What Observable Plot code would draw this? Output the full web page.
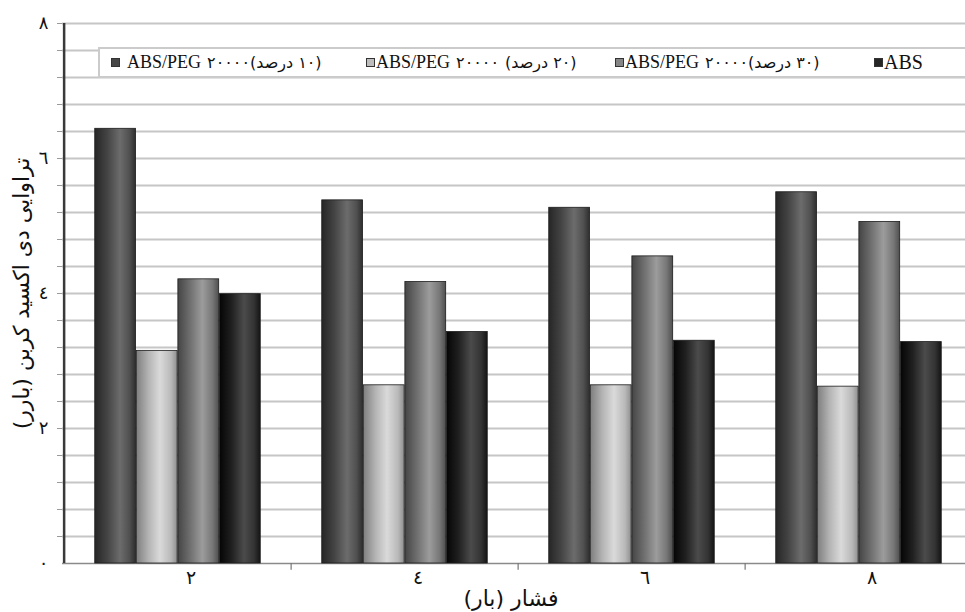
<!DOCTYPE html>
<html>
<head>
<meta charset="utf-8">
<script src="https://cdn.jsdelivr.net/npm/d3@7"></script>
<script src="https://cdn.jsdelivr.net/npm/@observablehq/plot@0.6"></script>
<style>
  html, body { margin: 0; padding: 0; background: #fff; overflow: hidden; }
  #wrap { position: relative; width: 965px; height: 612px; overflow: hidden; }
  #wrap svg { display: block; max-width: none !important; }
  .legend {
    position: absolute; left: 98px; top: 47px; width: 900px; height: 27px;
    border: 2px solid #cbcbcb; background: #fff;
    font-family: "Liberation Serif", "DejaVu Sans", serif; color: #111;
  }
  .item { position: absolute; top: 0; height: 27px; display: flex; align-items: center; white-space: nowrap; }
  .sw { width: 9px; height: 9px; border: 1px solid #333; box-sizing: border-box; }
  .num { font-family: "DejaVu Sans", sans-serif; font-size: 16px; letter-spacing: 1.5px; margin-left: 6px; }
  .fa { direction: rtl; unicode-bidi: isolate; font-family: "DejaVu Sans", sans-serif; font-size: 16px; }
</style>
</head>
<body>
<div id="wrap"></div>
<script>
// Pressure groups (bar) and their tick labels
const pressures = [2, 4, 6, 8];
const pressureLabels = ["٢", "٤", "٦", "٨"];

// Series, in bar order within each group
const seriesKeys = ["peg10", "peg20", "peg30", "abs"];
const seriesLatin = ["ABS/PEG", "ABS/PEG", "ABS/PEG", "ABS"];
const seriesMw = ["٢٠٠٠٠", "٢٠٠٠٠", "٢٠٠٠٠", ""];
const seriesPersian = ["(١٠ درصد)", "(٢٠ درصد)", "(٣٠ درصد)", ""];

// CO2 permeability (Barrer) per pressure
const peg10 = [6.44, 5.38, 5.27, 5.50];
const peg20 = [3.15, 2.64, 2.64, 2.62];
const peg30 = [4.21, 4.17, 4.55, 5.06];
const abs   = [3.99, 3.43, 3.30, 3.28];

// Y axis tick labels
const yTicks = [0, 2, 4, 6, 8];
const yTickLabels = ["٠", "٢", "٤", "٦", "٨"];

const yTitle = "\u200Fتراوایی دی اکسید کربن (بارر)\u200F";
const xTitle = "\u200Fفشار (بار)\u200F";

const valuesBySeries = {peg10, peg20, peg30, abs};
const table = seriesKeys.flatMap(s =>
  pressureLabels.map((g, i) => ({series: s, group: g, value: valuesBySeries[s][i]}))
);

// Cylinder-like shading for each series
const gradients = {
  peg10: [[0, "#262626"], [0.3, "#434343"], [0.62, "#6c6c6c"], [0.85, "#505050"], [1, "#2e2e2e"]],
  peg20: [[0, "#7e7e7e"], [0.3, "#b4b4b4"], [0.58, "#dadada"], [0.85, "#b9b9b9"], [1, "#8f8f8f"]],
  peg30: [[0, "#454545"], [0.3, "#6f6f6f"], [0.6, "#9c9c9c"], [0.85, "#777777"], [1, "#4f4f4f"]],
  abs:   [[0, "#050505"], [0.3, "#202020"], [0.6, "#4b4b4b"], [0.85, "#333333"], [1, "#141414"]]
};
const swatchColors = {peg10: "#464646", peg20: "#bdbdbd", peg30: "#858585", abs: "#262626"};

const W = 973, H = 612, ML = 62, MR = 0, MT = 23, MB = 49;
const step = (W - ML - MR) / pressureLabels.length;
const outer = step * 0.135;
const barW = step * 0.73 / seriesKeys.length;

const gridTicks = d3.range(1, 21).map(k => k * 0.4);

const bars = seriesKeys.map((s, i) =>
  Plot.barY(table.filter(d => d.series === s), {
    x: "group",
    y: "value",
    fill: `url(#grad-${s})`,
    stroke: "#1c1c1c",
    strokeWidth: 0.8,
    insetLeft: outer + barW * i,
    insetRight: step - outer - barW * (i + 1)
  })
);

const chart = Plot.plot({
  width: W,
  height: H,
  marginLeft: ML,
  marginRight: MR,
  marginTop: MT,
  marginBottom: MB,
  style: {fontFamily: "'Liberation Serif', 'DejaVu Sans', serif", color: "#111", background: "#fff", maxWidth: "none"},
  x: {domain: pressureLabels, padding: 0, axis: null},
  y: {domain: [0, 8], axis: null},
  marks: [
    Plot.ruleY(gridTicks, {stroke: "#c6c6c6", strokeWidth: 2}),
    Plot.ruleY([0], {stroke: "#8a8a8a", strokeWidth: 1.5}),
    // small ticks left of the value axis
    Plot.axisY(gridTicks, {anchor: "left", tickSize: 5, fill: "none", stroke: "#9a9a9a", label: null}),
    Plot.axisY(yTicks, {
      anchor: "left", tickSize: 0, tickPadding: 14, fontSize: 18, fill: "#111",
      tickFormat: d => yTickLabels[yTicks.indexOf(d)], label: null
    }),
    // category separators below the baseline
    Plot.ruleX(pressureLabels.slice(1), {x: d => d, dx: -step / 2, y1: 0, y2: -0.1, stroke: "#777", strokeWidth: 1.2}),
    ...bars,
    // value axis line
    Plot.ruleX([pressureLabels[0]], {x: d => d, dx: -step / 2, y1: 0, y2: 8, stroke: "#3a3a3a", strokeWidth: 2.5}),
    Plot.axisX({anchor: "bottom", tickSize: 0, tickPadding: 7, dx: 13, fontSize: 19, fill: "#111", label: null}),
    Plot.text([xTitle], {frameAnchor: "bottom", textAnchor: "middle", dy: 42, dx: -7, fontSize: 22, fill: "#111", fontFamily: "DejaVu Sans"}),
    Plot.text([yTitle], {frameAnchor: "left", textAnchor: "middle", dx: -41, rotate: -90, fontSize: 22, fill: "#111", fontFamily: "DejaVu Sans"})
  ]
});

// gradient definitions referenced by the bar fills
const ns = "http://www.w3.org/2000/svg";
const defs = document.createElementNS(ns, "defs");
for (const s of seriesKeys) {
  const lg = document.createElementNS(ns, "linearGradient");
  lg.setAttribute("id", `grad-${s}`);
  lg.setAttribute("x1", "0"); lg.setAttribute("x2", "1");
  lg.setAttribute("y1", "0"); lg.setAttribute("y2", "0");
  for (const [o, c] of gradients[s]) {
    const st = document.createElementNS(ns, "stop");
    st.setAttribute("offset", o);
    st.setAttribute("stop-color", c);
    lg.appendChild(st);
  }
  defs.appendChild(lg);
}
chart.insertBefore(defs, chart.firstChild);

const wrap = document.getElementById("wrap");
wrap.appendChild(chart);

// legend box drawn inside the plot area
const legend = document.createElement("div");
legend.className = "legend";
const itemLeft = [11, 266, 515, 774];
seriesKeys.forEach((s, i) => {
  const it = document.createElement("div");
  it.className = "item";
  it.style.left = itemLeft[i] + "px";
  const sw = document.createElement("span");
  sw.className = "sw";
  sw.style.background = swatchColors[s];
  sw.style.marginRight = i === 0 ? "7px" : "1px";
  it.appendChild(sw);
  const lat = document.createElement("span");
  lat.textContent = seriesLatin[i];
  lat.style.fontSize = s === "abs" ? "20px" : "18px";
  it.appendChild(lat);
  if (seriesMw[i]) {
    const num = document.createElement("span");
    num.className = "num";
    num.textContent = seriesMw[i];
    if (i === 1) num.style.marginRight = "6px";
    it.appendChild(num);
  }
  if (seriesPersian[i]) {
    const fa = document.createElement("span");
    fa.className = "fa";
    fa.textContent = seriesPersian[i];
    it.appendChild(fa);
  }
  legend.appendChild(it);
});
wrap.appendChild(legend);
</script>
</body>
</html>
